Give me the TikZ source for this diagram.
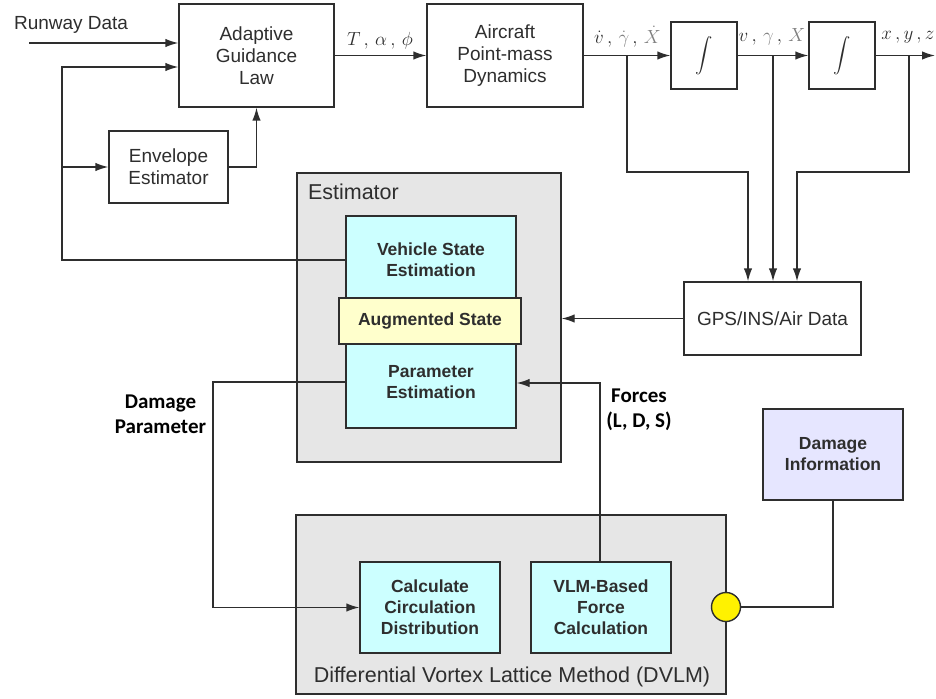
\documentclass[tikz,border=0pt]{standalone}
\usepackage{fix-cm}
\usepackage{exscale}
\usepackage{fontspec}
\setmainfont{Liberation Sans}
\newfontfamily\calfont{Carlito}
\usetikzlibrary{arrows.meta,calc}

\definecolor{boxgray}{HTML}{E6E6E6}
\definecolor{boxcyan}{HTML}{CCFFFF}
\definecolor{boxyel}{HTML}{FFFFCC}
\definecolor{boxlav}{HTML}{E6E6FF}
\definecolor{linegray}{HTML}{2E2E2E}

\begin{document}
\begin{tikzpicture}[x=1pt,y=-1pt,line width=1.4pt,color=linegray,
    blk/.style={draw,fill=white,align=center,inner sep=0pt,
      font=\fontsize{19}{22}\selectfont},
    grp/.style={draw,fill=boxgray,inner sep=0pt},
    grplbl/.style={font=\fontsize{21.5}{24}\selectfont},
    core/.style={draw,fill=boxcyan,align=center,inner sep=0pt,
      font=\fontsize{17.5}{21}\selectfont\bfseries},
    bold/.style={align=center,font=\fontsize{17.5}{21}\selectfont\bfseries},
    lbl/.style={align=center,text=black,font=\calfont\fontsize{21}{25}\selectfont\bfseries},
    mlbl/.style={font=\fontsize{19}{22}\selectfont},
    sig/.style={-{Latex[length=13pt,width=8.5pt]}}]
  \useasboundingbox (0,0) rectangle (936,698);

  %%%%%%%%%%%%%%%%%%%%%%%%%%%%%%%%%%%%%%%%%%%%%%%%%%%%%%%%%%%%%%%%%%%%%%%%%%%
  %%%%  Guidance and dynamics chain
  \node[blk,minimum width=155pt,minimum height=103pt] (agl) at (256.5,55.5) {Adaptive\\Guidance\\Law};
  \node[blk,minimum width=156pt,minimum height=103pt] (acft) at (505,55.5) {Aircraft\\Point-mass\\Dynamics};
  \node[blk,minimum width=66pt,minimum height=67pt] (int1) at (704,55.5) {$\displaystyle\int$};
  \node[blk,minimum width=66pt,minimum height=67pt] (int2) at (842,55.5) {$\displaystyle\int$};
  \node[blk,minimum width=119pt,minimum height=72pt] (env) at (168.5,167) {Envelope\\Estimator};
  \node[blk,minimum width=177pt,minimum height=73pt] (gps) at (772.5,318.5) {GPS/INS/Air Data};

  \node[mlbl,anchor=west] (rwylbl) at (10,25) {Runway Data};
  \node[mlbl] (tlbl) at (380,41) {$T\,,\,\alpha\,,\,\phi$};
  \node[mlbl] (dlbl) at (627.5,37) {$\dot v\,,\,{\color{black!50}\dot\gamma}\,,\,{\color{black!50}\dot X}$};
  \node[mlbl] (slbl) at (772,37) {$v\,,\,{\color{black!50}\gamma}\,,\,{\color{black!50}X}$};
  \node[mlbl,anchor=east,inner sep=0pt] (plbl) at (935,37) {$x\,,y\,,z$};

  %%%%%%%%%%%%%%%%%%%%%%%%%%%%%%%%%%%%%%%%%%%%%%%%%%%%%%%%%%%%%%%%%%%%%%%%%%%
  %%%%  Estimator
  \node[grp,minimum width=264pt,minimum height=289pt] (est) at (429,317.5) {};
  \node[grplbl,anchor=west] (estlbl) at (304,192) {Estimator};
  \node[core,minimum width=170pt,minimum height=212pt] (core) at (431,322) {};
  \node[bold] (vse) at (431,260) {Vehicle State\\Estimation};
  \node[bold] (pe) at (431,382) {Parameter\\Estimation};
  \node[core,fill=boxyel,minimum width=182pt,minimum height=46pt] (aug) at (430,321) {Augmented State};

  %%%%%%%%%%%%%%%%%%%%%%%%%%%%%%%%%%%%%%%%%%%%%%%%%%%%%%%%%%%%%%%%%%%%%%%%%%%
  %%%%  DVLM
  \node[grp,minimum width=430pt,minimum height=179pt] (dvlm) at (511,604.5) {};
  \node[grplbl] (dvlmlbl) at (512,677) {Differential Vortex Lattice Method (DVLM)};
  \node[core,minimum width=140pt,minimum height=91pt] (calc) at (430,607.5) {Calculate\\Circulation\\Distribution};
  \node[core,minimum width=140pt,minimum height=91pt] (vlm) at (601,607.5) {VLM-Based\\Force\\Calculation};
  \node[circle,draw,fill=yellow,minimum size=29pt,inner sep=0pt] (port) at (726,607) {};
  \node[core,fill=boxlav,minimum width=140pt,minimum height=91pt] (dmg) at (833,454.5) {Damage\\Information};

  \node[lbl] (dplbl) at (160.5,414.5) {Damage\\Parameter};
  \node[lbl] (flbl) at (639,410) {Forces\\(L, D, S)};

  %%%%%%%%%%%%%%%%%%%%%%%%%%%%%%%%%%%%%%%%%%%%%%%%%%%%%%%%%%%%%%%%%%%%%%%%%%%
  %%%%  Connectors
  \coordinate (rwy) at (29,43);
  \coordinate (fb) at (62,260);
  \coordinate (fbtop) at (62,67);
  \coordinate (fbmid) at (62,167);
  \coordinate (out) at (935,55.5);
  \coordinate (tap1) at (627,55.5);
  \coordinate (tap2) at (773,55.5);
  \coordinate (tap3) at (909,55.5);
  \coordinate (g1) at (748,172);
  \coordinate (g3) at (797,172);
  \coordinate (dp) at (213,382);
  \coordinate (fc) at (600,383);

  \draw[sig] (rwy) -- (rwy -| agl.west);
  \draw[sig] (core.west |- fb) -- (fb) -- (fbtop) -- (fbtop -| agl.west);
  \draw[sig] (fbmid) -- (env.west);
  \draw[sig] (env.east) -| (agl.south);
  \draw[sig] (agl.east) -- (acft.west);
  \draw[sig] (acft.east) -- (int1.west);
  \draw[sig] (int1.east) -- (int2.west);
  \draw[sig] (int2.east) -- (out);

  \draw[sig] (tap1) |- (g1) -- (g1 |- gps.north);
  \draw[sig] (tap2) -- (tap2 |- gps.north);
  \draw[sig] (tap3) |- (g3) -- (g3 |- gps.north);
  \draw[sig] (gps.west) -- (gps.west -| est.east);

  \draw[sig] (core.west |- dp) -- (dp) |- (calc.west);
  \draw[sig] (vlm.north -| fc) -- (fc) -- (fc -| core.east);
  \draw (dmg.south) |- (port.east);
\end{tikzpicture}
\end{document}
